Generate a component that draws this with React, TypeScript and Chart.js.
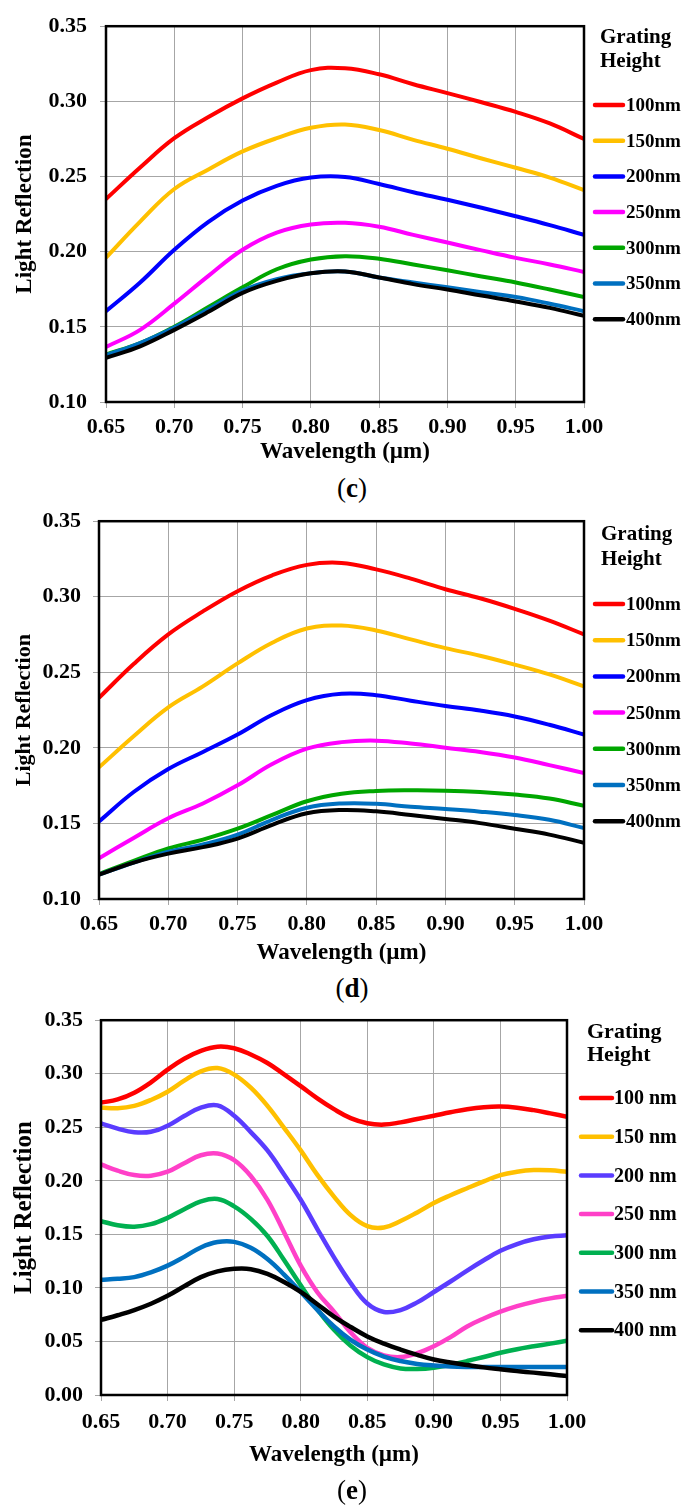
import React, { useEffect, useRef } from "react";
import { Chart, registerables } from "chart.js";

Chart.register(...registerables);

// ---------- data ----------
const wavelengthCD = [0.65, 0.675, 0.7, 0.725, 0.75, 0.775, 0.8, 0.825, 0.85, 0.875, 0.9, 0.925, 0.95, 0.975, 1.0];
const wavelengthE = [
  0.65, 0.6625, 0.675, 0.6875, 0.7, 0.7125, 0.725, 0.7375, 0.75, 0.7625, 0.775, 0.7875, 0.8, 0.8125, 0.825,
  0.8375, 0.85, 0.8625, 0.875, 0.8875, 0.9, 0.9125, 0.925, 0.9375, 0.95, 0.9625, 0.975, 0.9875, 1.0,
];
const xTicks = [0.65, 0.7, 0.75, 0.8, 0.85, 0.9, 0.95, 1.0];
const yTicksCD = [0.1, 0.15, 0.2, 0.25, 0.3, 0.35];
const yTicksE = [0, 0.05, 0.1, 0.15, 0.2, 0.25, 0.3, 0.35];

const heightLabelsCD = ["100nm", "150nm", "200nm", "250nm", "300nm", "350nm", "400nm"];
const heightLabelsE = ["100 nm", "150 nm", "200 nm", "250 nm", "300 nm", "350 nm", "400 nm"];

// panel (c)
const c100 = [0.235, 0.256, 0.2755, 0.2896, 0.302, 0.3125, 0.3208, 0.322, 0.318, 0.3114, 0.3055, 0.2994, 0.293, 0.2853, 0.275];
const c150 = [0.196, 0.22, 0.2417, 0.2547, 0.2667, 0.2755, 0.2824, 0.2846, 0.2809, 0.2744, 0.2685, 0.262, 0.2558, 0.2493, 0.241];
const c200 = [0.1604, 0.1795, 0.2013, 0.2199, 0.234, 0.2438, 0.2493, 0.2497, 0.245, 0.2395, 0.2345, 0.2292, 0.2236, 0.2177, 0.2112];
const c250 = [0.1366, 0.148, 0.1654, 0.1839, 0.2013, 0.2127, 0.2181, 0.2192, 0.2166, 0.2112, 0.2061, 0.2009, 0.1959, 0.1915, 0.1865];
const c300 = [0.1316, 0.1392, 0.1501, 0.1632, 0.1763, 0.1883, 0.1948, 0.197, 0.1953, 0.1915, 0.1876, 0.1835, 0.1795, 0.1748, 0.1698];
const c350 = [0.1312, 0.1392, 0.1495, 0.1617, 0.1741, 0.1817, 0.1856, 0.1868, 0.1828, 0.1795, 0.1763, 0.173, 0.1698, 0.1654, 0.1604];
const c400 = [0.1294, 0.137, 0.148, 0.16, 0.1726, 0.1806, 0.1856, 0.1868, 0.1828, 0.1784, 0.1748, 0.1708, 0.1669, 0.1626, 0.1573];

// panel (d)
const d100 = [0.2332, 0.2555, 0.2751, 0.2903, 0.3037, 0.3142, 0.3211, 0.3224, 0.3181, 0.312, 0.305, 0.299, 0.292, 0.2842, 0.2751];
const d150 = [0.1871, 0.2077, 0.2268, 0.2407, 0.2559, 0.2696, 0.279, 0.2809, 0.2777, 0.2718, 0.266, 0.261, 0.2551, 0.2486, 0.2407];
const d200 = [0.1513, 0.1708, 0.186, 0.1973, 0.2088, 0.2219, 0.2316, 0.2358, 0.2349, 0.2312, 0.2277, 0.2247, 0.2208, 0.2153, 0.2088];
const d250 = [0.127, 0.1404, 0.1534, 0.1632, 0.1752, 0.1893, 0.1995, 0.2038, 0.2048, 0.2029, 0.2001, 0.1973, 0.1936, 0.1886, 0.1834];
const d300 = [0.1165, 0.1252, 0.1335, 0.1393, 0.1465, 0.1556, 0.1647, 0.1697, 0.1715, 0.1719, 0.1717, 0.1708, 0.1691, 0.1665, 0.1617];
const d350 = [0.1161, 0.1241, 0.1313, 0.1361, 0.1426, 0.1524, 0.1604, 0.1632, 0.163, 0.161, 0.1595, 0.1578, 0.1556, 0.1524, 0.147];
const d400 = [0.1161, 0.1241, 0.13, 0.1343, 0.14, 0.1491, 0.1567, 0.1589, 0.158, 0.1556, 0.153, 0.1502, 0.1465, 0.1426, 0.1372];

// panel (e)
const e100 = [
  0.273, 0.276, 0.2823, 0.292, 0.3038, 0.314, 0.3213, 0.3252, 0.3238, 0.318, 0.31, 0.2995, 0.2884, 0.277, 0.2669,
  0.2585, 0.2537, 0.2525, 0.2546, 0.2577, 0.2608, 0.264, 0.2669, 0.2688, 0.2694, 0.2683, 0.266, 0.263, 0.2598,
];
const e150 = [
  0.2684, 0.2678, 0.27, 0.2755, 0.2832, 0.2935, 0.3023, 0.3053, 0.2992, 0.287, 0.27, 0.2495, 0.2284, 0.2055, 0.1853,
  0.168, 0.1577, 0.1565, 0.1625, 0.1705, 0.1793, 0.1865, 0.1931, 0.1995, 0.2054, 0.2085, 0.21, 0.2098, 0.2085,
];
const e200 = [
  0.2537, 0.2488, 0.2454, 0.2458, 0.2515, 0.2605, 0.2684, 0.2705, 0.2608, 0.2455, 0.2284, 0.206, 0.1823, 0.155, 0.1285,
  0.1045, 0.0854, 0.0775, 0.0793, 0.0865, 0.0962, 0.106, 0.1162, 0.1258, 0.1347, 0.141, 0.1454, 0.148, 0.1491,
];
const e250 = [
  0.2153, 0.2095, 0.2054, 0.2048, 0.2085, 0.2165, 0.2239, 0.2255, 0.2193, 0.2045, 0.1823, 0.152, 0.1208, 0.096, 0.0778,
  0.0585, 0.044, 0.037, 0.0354, 0.039, 0.0455, 0.054, 0.064, 0.0715, 0.0778, 0.083, 0.087, 0.0902, 0.0926,
];
const e300 = [
  0.1624, 0.1585, 0.1571, 0.1595, 0.1654, 0.1735, 0.1808, 0.183, 0.1762, 0.1645, 0.1485, 0.126, 0.1024, 0.08, 0.0609,
  0.046, 0.0354, 0.0285, 0.0248, 0.0243, 0.0255, 0.0283, 0.0317, 0.0355, 0.0394, 0.0428, 0.0455, 0.048, 0.0507,
];
const e350 = [
  0.1076, 0.1085, 0.1101, 0.1145, 0.1208, 0.129, 0.1378, 0.1428, 0.143, 0.1375, 0.127, 0.1125, 0.0962, 0.0795, 0.064,
  0.0515, 0.0424, 0.0358, 0.0317, 0.029, 0.0275, 0.0266, 0.0262, 0.0261, 0.0261, 0.0261, 0.0261, 0.0261, 0.0261,
];
const e400 = [
  0.0701, 0.0745, 0.0793, 0.0852, 0.0926, 0.1015, 0.1101, 0.1155, 0.1178, 0.1175, 0.1131, 0.1055, 0.0962, 0.0848, 0.0732,
  0.0635, 0.0547, 0.048, 0.0424, 0.0375, 0.0332, 0.0303, 0.028, 0.0258, 0.024, 0.0223, 0.0209, 0.0193, 0.0178,
];

const colorsCD = ["#FF0000", "#FFC000", "#0000FF", "#FF00FF", "#00A600", "#0070C0", "#000000"];
const colorsE = ["#FF0000", "#FFC000", "#5A3CFF", "#FF40C8", "#00B050", "#0070C0", "#000000"];

// ---------- layout ----------
const FONT = "'Liberation Serif', 'Times New Roman', serif";
const W = 684;
const GRID = "#A6A6A6";

type LegendCfg = {
  titleX: number; titleY: number[]; titleSize: number;
  lineX1: number; lineX2: number; textX: number; firstY: number; stepY: number; textSize: number;
};

type PanelCfg = {
  top: number; height: number;
  chartLeft: number; chartRight: number; chartTop: number; chartBottom: number;
  yMin: number; yMax: number; yTicks: number[];
  x: number[]; labels: string[]; series: number[][]; colors: string[]; lineWidth: number;
  yTitleSize: number; yTitlePad: number; xTitleSize: number; xTitlePadBottom: number;
  xTickPad: number; yTickPad: number;
  legend: LegendCfg;
  letter: string; letterY: number;
};

const panels: PanelCfg[] = [
  {
    top: 0, height: 470, chartLeft: 106, chartRight: 584, chartTop: 20, chartBottom: 402,
    yMin: 0.1, yMax: 0.35, yTicks: yTicksCD,
    x: wavelengthCD, labels: heightLabelsCD, series: [c100, c150, c200, c250, c300, c350, c400], colors: colorsCD, lineWidth: 4,
    yTitleSize: 23, yTitlePad: 11, xTitleSize: 23, xTitlePadBottom: 4.2, xTickPad: 6, yTickPad: 13,
    legend: { titleX: 600, titleY: [38, 62], titleSize: 21, lineX1: 595, lineX2: 623, textX: 626, firstY: 105, stepY: 35.7, textSize: 19 },
    letter: "c", letterY: 488,
  },
  {
    top: 496, height: 474, chartLeft: 99, chartRight: 584, chartTop: 516, chartBottom: 899,
    yMin: 0.1, yMax: 0.35, yTicks: yTicksCD,
    x: wavelengthCD, labels: heightLabelsCD, series: [d100, d150, d200, d250, d300, d350, d400], colors: colorsCD, lineWidth: 4,
    yTitleSize: 22, yTitlePad: 11, xTitleSize: 23, xTitlePadBottom: 3.2, xTickPad: 6, yTickPad: 12,
    legend: { titleX: 601, titleY: [535, 560], titleSize: 21, lineX1: 595, lineX2: 623, textX: 626, firstY: 604, stepY: 36.2, textSize: 19 },
    letter: "d", letterY: 988,
  },
  {
    top: 995, height: 480, chartLeft: 101, chartRight: 567, chartTop: 1015, chartBottom: 1395,
    yMin: 0, yMax: 0.35, yTicks: yTicksE,
    x: wavelengthE, labels: heightLabelsE, series: [e100, e150, e200, e250, e300, e350, e400], colors: colorsE, lineWidth: 4.5,
    yTitleSize: 25, yTitlePad: 10, xTitleSize: 23, xTitlePadBottom: 6.2, xTickPad: 8, yTickPad: 12,
    legend: { titleX: 587, titleY: [1032, 1055], titleSize: 22, lineX1: 581, lineX2: 612, textX: 614, firstY: 1098, stepY: 38.7, textSize: 20 },
    letter: "e", letterY: 1490,
  },
];

function Panel({ cfg }: { cfg: PanelCfg }) {
  const ref = useRef<HTMLCanvasElement>(null);
  useEffect(() => {
    const canvas = ref.current;
    if (!canvas) return;
    const padTop = cfg.chartTop - cfg.top;
    const padRight = W - cfg.chartRight;
    const xAxisH = cfg.top + cfg.height - cfg.chartBottom;
    const lg = cfg.legend;

    const framePlugin = {
      id: "frameLegend",
      afterDatasetsDraw(chart: any) {
        const { ctx, chartArea } = chart;
        ctx.save();
        ctx.strokeStyle = "#000";
        ctx.lineWidth = 2.5;
        ctx.strokeRect(chartArea.left, chartArea.top, chartArea.right - chartArea.left, chartArea.bottom - chartArea.top);
        ctx.restore();
      },
      afterDraw(chart: any) {
        const { ctx } = chart;
        ctx.save();
        ctx.fillStyle = "#000";
        ctx.textAlign = "left";
        ctx.textBaseline = "middle";
        ctx.font = `bold ${lg.titleSize}px ${FONT}`;
        ctx.fillText("Grating", lg.titleX, lg.titleY[0] - cfg.top);
        ctx.fillText("Height", lg.titleX, lg.titleY[1] - cfg.top);
        ctx.font = `bold ${lg.textSize}px ${FONT}`;
        chart.data.datasets.forEach((ds: any, i: number) => {
          const y = lg.firstY + i * lg.stepY - cfg.top;
          ctx.strokeStyle = ds.borderColor;
          ctx.lineWidth = 4.5;
          ctx.lineCap = "round";
          ctx.beginPath();
          ctx.moveTo(lg.lineX1, y);
          ctx.lineTo(lg.lineX2, y);
          ctx.stroke();
          ctx.fillStyle = "#000";
          ctx.fillText(ds.label, lg.textX, y + 1);
        });
        ctx.restore();
      },
    };

    const chart = new Chart(canvas, {
      type: "line",
      data: {
        datasets: cfg.series.map((s, i) => ({
          label: cfg.labels[i],
          data: cfg.x.map((x, j) => ({ x, y: s[j] })),
          borderColor: cfg.colors[i],
          backgroundColor: cfg.colors[i],
          borderWidth: cfg.lineWidth,
          pointRadius: 0,
          tension: 0.4,
          fill: false,
          order: cfg.series.length - 1 - i,
        })),
      },
      options: {
        responsive: false,
        animation: false,
        events: [],
        layout: { padding: { top: padTop, right: padRight, left: 0, bottom: 0 } },
        plugins: { legend: { display: false }, tooltip: { enabled: false } },
        scales: {
          x: {
            type: "linear",
            min: 0.65,
            max: 1.0,
            afterBuildTicks: (scale: any) => { scale.ticks = xTicks.map((v) => ({ value: v })); },
            afterFit: (scale: any) => { scale.height = xAxisH; },
            ticks: {
              autoSkip: false,
              maxRotation: 0,
              padding: cfg.xTickPad,
              color: "#000",
              font: { family: FONT, size: 22, weight: "bold" },
              callback: (v: any) => Number(v).toFixed(2),
            },
            grid: { color: GRID, lineWidth: 1, tickLength: 6, drawTicks: true },
            border: { display: false },
            title: {
              display: true,
              text: "Wavelength (µm)",
              color: "#000",
              font: { family: FONT, size: cfg.xTitleSize, weight: "bold" },
              padding: { top: 0, bottom: cfg.xTitlePadBottom },
            },
          },
          y: {
            type: "linear",
            min: cfg.yMin,
            max: cfg.yMax,
            afterBuildTicks: (scale: any) => { scale.ticks = cfg.yTicks.map((v) => ({ value: v })); },
            afterFit: (scale: any) => { scale.width = cfg.chartLeft; },
            ticks: {
              padding: cfg.yTickPad,
              color: "#000",
              font: { family: FONT, size: 22, weight: "bold" },
              callback: (v: any) => Number(v).toFixed(2),
            },
            grid: { color: GRID, lineWidth: 1, tickLength: 6, drawTicks: true },
            border: { display: false },
            title: {
              display: true,
              text: "Light Reflection",
              color: "#000",
              font: { family: FONT, size: cfg.yTitleSize, weight: "bold" },
              padding: { top: cfg.yTitlePad, bottom: 0 },
            },
          },
        },
      } as any,
      plugins: [framePlugin],
    });
    return () => chart.destroy();
  }, [cfg]);

  return (
    <>
      <canvas
        ref={ref}
        width={W}
        height={cfg.height}
        style={{ position: "absolute", left: 0, top: cfg.top, width: W, height: cfg.height }}
      />
      <div
        style={{
          position: "absolute",
          left: 10,
          width: W,
          top: cfg.letterY - 16,
          height: 32,
          lineHeight: "32px",
          textAlign: "center",
          fontFamily: FONT,
          fontSize: 27,
          color: "#000",
        }}
      >
        (<b>{cfg.letter}</b>)
      </div>
    </>
  );
}

export default function App() {
  return (
    <div style={{ position: "absolute", left: 0, top: 0, width: W, height: 1506, background: "#fff" }}>
      {panels.map((p) => (
        <Panel key={p.letter} cfg={p} />
      ))}
    </div>
  );
}
